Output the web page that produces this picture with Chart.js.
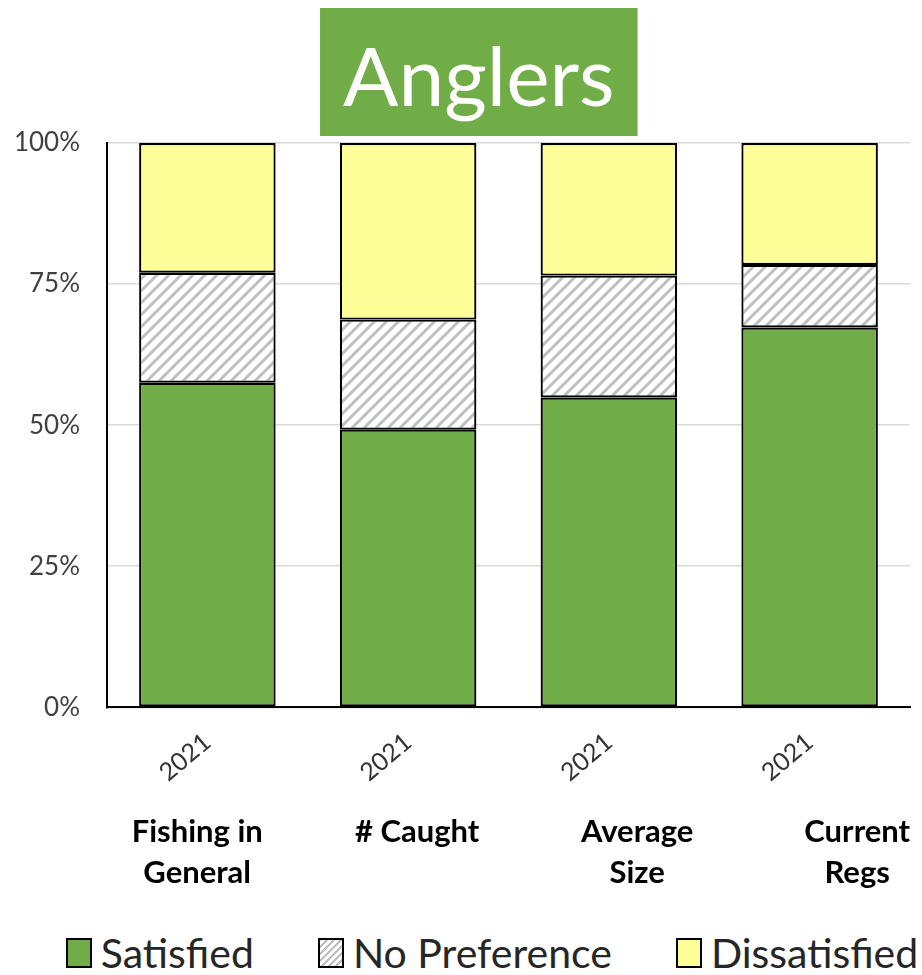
<!DOCTYPE html>
<html>
<head>
<meta charset="utf-8">
<script src="https://cdn.jsdelivr.net/npm/chart.js@4/dist/chart.umd.min.js"></script>
<style>
  html, body { margin: 0; padding: 0; background: #fff; }
  #wrap { width: 922px; height: 930px; position: relative; }
  #legend { width: 922px; height: 45px; display: flex; justify-content: center; align-items: center;
            gap: 64px; padding-left: 62px; box-sizing: border-box; font-family: Lato, sans-serif;
            font-size: 41px; color: #262626; }
  #legend .item { display: flex; align-items: center; white-space: nowrap; }
  #legend .box { width: 22px; height: 26px; border: 2px solid #000; margin-right: 9px; }
</style>
</head>
<body>
<div id="wrap"><canvas id="chart"></canvas></div>
<div id="legend"></div>
<script>
// Data
const titleText = 'Anglers';
const years = ['2021', '2021', '2021', '2021'];
const categories = [['Fishing in', 'General'], '# Caught', ['Average', 'Size'], ['Current', 'Regs']];
const seriesNames = ['Satisfied', 'No Preference', 'Dissatisfied'];
const satisfied = [57.5, 49.2, 54.9, 67.3];
const noPreference = [19.5, 19.5, 21.6, 11.1];
const dissatisfied = [23.0, 31.3, 23.5, 21.6];
const yTicks = [0, 25, 50, 75, 100];

const GREEN = '#70ad47';
const YELLOW = '#ffff99';

// diagonal hatch for "No Preference"
function makeHatch(ctx) {
    const c = document.createElement('canvas');
    c.width = 12; c.height = 12;
    const g = c.getContext('2d');
    g.fillStyle = '#fff';
    g.fillRect(0, 0, 12, 12);
    g.strokeStyle = '#bfbfbf';
    g.lineWidth = 3;
    g.beginPath();
    g.moveTo(0, 12); g.lineTo(12, 0);
    g.moveTo(-6, 6); g.lineTo(6, -6);
    g.moveTo(6, 18); g.lineTo(18, 6);
    g.stroke();
    return ctx.createPattern(c, 'repeat');
}

// green title box
const titleBox = {
    id: 'titleBox',
    afterDraw(chart) {
        const ctx = chart.ctx;
        const area = chart.chartArea;
        ctx.save();
        ctx.font = '82px Lato, sans-serif';
        const w = ctx.measureText(titleText).width + 46;
        const cx = area.left + (area.right - area.left) * 0.463;
        ctx.fillStyle = GREEN;
        ctx.fillRect(cx - w / 2, 8, w, 128);
        ctx.fillStyle = '#fff';
        ctx.textAlign = 'center';
        ctx.textBaseline = 'alphabetic';
        ctx.fillText(titleText, cx, 106);
        ctx.restore();
    }
};

const canvas = document.getElementById('chart');
const ctx = canvas.getContext('2d');
const hatch = makeHatch(ctx);
const fills = [GREEN, hatch, YELLOW];

new Chart(ctx, {
    type: 'bar',
    data: {
        labels: years,
        datasets: [
            { label: seriesNames[0], data: satisfied, backgroundColor: fills[0] },
            { label: seriesNames[1], data: noPreference, backgroundColor: fills[1] },
            { label: seriesNames[2], data: dissatisfied, backgroundColor: fills[2] }
        ].map(d => Object.assign(d, {
            borderColor: '#000', borderWidth: 2.2, borderSkipped: false,
            categoryPercentage: 1, barPercentage: 0.68
        }))
    },
    options: {
        responsive: true,
        maintainAspectRatio: false,
        animation: false,
        layout: { padding: { top: 143, right: 12, left: 14, bottom: 32 } },
        scales: {
            x: {
                stacked: true,
                weight: 0,
                grid: { display: false },
                border: { color: '#000', width: 2 },
                ticks: {
                    minRotation: 40, maxRotation: 40, padding: 12,
                    color: '#333', font: { family: 'Lato, sans-serif', size: 25 }
                }
            },
            // category names sit under the years, a little to the right like in the source
            x2: {
                type: 'linear',
                position: 'bottom',
                weight: 1,
                bounds: 'data',
                offset: false,
                min: -0.41, max: 3.24,
                afterBuildTicks: axis => { axis.ticks = categories.map((c, i) => ({ value: i })); },
                grid: { display: false, offset: false },
                border: { display: false },
                ticks: {
                    autoSkip: false,
                    maxRotation: 0,
                    padding: 4,
                    color: '#000',
                    font: { family: 'Lato, sans-serif', size: 31, weight: 'bold', lineHeight: 1.33 },
                    callback: v => categories[v]
                }
            },
            y: {
                stacked: true,
                min: 0, max: 100,
                afterBuildTicks: axis => { axis.ticks = yTicks.map(v => ({ value: v })); },
                afterFit: axis => { axis.width = 93; },
                grid: { color: '#d9d9d9', lineWidth: 1.5, drawTicks: false },
                border: { color: '#000', width: 2 },
                ticks: {
                    padding: 27,
                    color: '#404040',
                    font: { family: 'Lato, sans-serif', size: 26 },
                    callback: v => v + '%'
                }
            }
        },
        plugins: {
            legend: { display: false },
            tooltip: { enabled: false },
            title: { display: false }
        }
    },
    plugins: [titleBox]
});

// HTML legend
const legendEl = document.getElementById('legend');
const legendBg = [GREEN, 'repeating-linear-gradient(-45deg, #fff 0 3px, #bfbfbf 3px 5px)', YELLOW];
seriesNames.forEach((name, i) => {
    const item = document.createElement('div');
    item.className = 'item';
    const box = document.createElement('span');
    box.className = 'box';
    box.style.background = legendBg[i];
    const txt = document.createElement('span');
    txt.textContent = name;
    item.appendChild(box);
    item.appendChild(txt);
    legendEl.appendChild(item);
});
</script>
</body>
</html>
